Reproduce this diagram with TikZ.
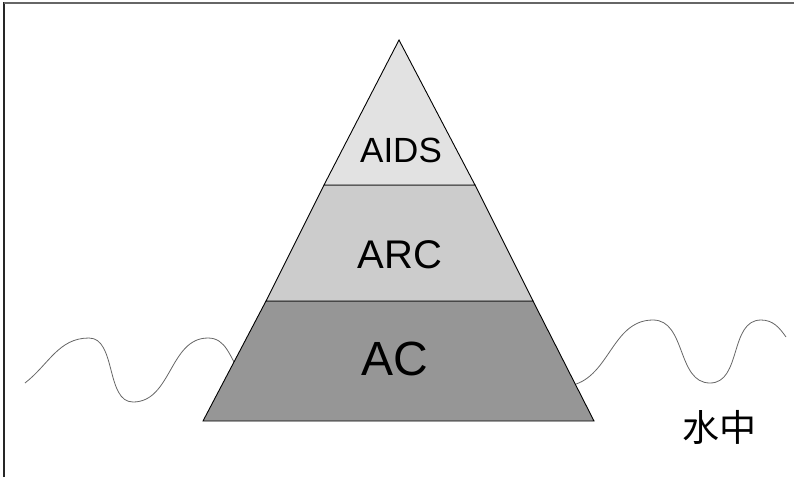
\documentclass[tikz,border=0pt]{standalone}
\usepackage{fontspec}
\setmainfont{Liberation Sans}
\newfontfamily\cjk{Noto Sans CJK SC}
\usetikzlibrary{calc}

\definecolor{aidsgray}{HTML}{E2E2E2}
\definecolor{arcgray}{HTML}{CCCCCC}
\definecolor{acgray}{HTML}{969696}

\begin{document}
\begin{tikzpicture}[x=1pt, y=1pt,
	layer/.style={draw=black, line width=0.9pt},
	wave/.style={draw=black!60, line width=0.8pt},
	label/.style={inner sep=0pt, text=black}]
	\useasboundingbox (0,-477) rectangle (794,0);

	% frame
	\draw[black!85, line width=2pt] (4,-477) -- (4,-2);
	\draw[black!60, line width=2pt] (4,-2.5) -- (794,-2.5);

	% pyramid corners
	\coordinate (apex)  at (399,-40);
	\coordinate (aidsL) at (324,-185);
	\coordinate (aidsR) at (475,-185);
	\coordinate (arcL)  at (266,-301);
	\coordinate (arcR)  at (533,-301);
	\coordinate (baseL) at (203,-421);
	\coordinate (baseR) at (594,-421);

	% water line
	\draw[wave] (25,-383) to[out=38, in=180] (89,-338)
		to[out=0, in=180, looseness=0.9] (133,-402)
		to[out=0, in=180] (208,-338)
		to[out=0, in=125] (240,-372);
	\draw[wave] (568,-386) to[out=8, in=180] (653,-320)
		to[out=0, in=180] (710,-383)
		to[out=0, in=180] (761,-320)
		to[out=0, in=125] (786,-337);

	% layers
	\filldraw[layer, fill=acgray]   (baseL) -- (baseR) -- (arcR) -- (arcL) -- cycle;
	\filldraw[layer, fill=arcgray]  (arcL) -- (arcR) -- (aidsR) -- (aidsL) -- cycle;
	\filldraw[layer, fill=aidsgray] (aidsL) -- (aidsR) -- (apex) -- cycle;

	\node[label, font=\fontsize{35}{35}\selectfont] (aids) at (401,-150) {AIDS};
	\node[label, font=\fontsize{40}{40}\selectfont] (arc)  at (400,-255) {ARC};
	\node[label, font=\fontsize{48}{48}\selectfont] (ac)   at (395,-359) {AC};
	\node[label, font=\cjk\fontsize{37}{37}\selectfont] (water) at (719,-427) {水中};
\end{tikzpicture}
\end{document}
